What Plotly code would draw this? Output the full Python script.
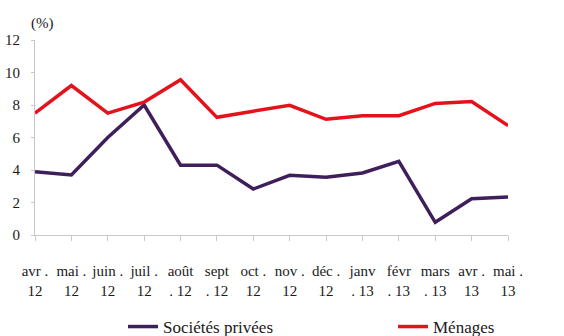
import plotly.graph_objects as go

# Monthly series, April 2012 to May 2013
mois = ["avr .<br>12", "mai .<br>12", "juin .<br>12", "juil .<br>12", "août<br>. 12",
        "sept<br>. 12", "oct .<br>12", "nov .<br>12", "déc .<br>12", "janv<br>. 13",
        "févr<br>. 13", "mars<br>. 13", "avr .<br>13", "mai .<br>13"]
societes_privees = [3.9, 3.7, 6.0, 8.0, 4.3, 4.3, 2.83, 3.67, 3.55, 3.82, 4.53, 0.78, 2.23, 2.34]
menages = [7.5, 9.2, 7.5, 8.18, 9.55, 7.24, 7.62, 7.98, 7.12, 7.34, 7.34, 8.1, 8.22, 6.73]

x = list(range(len(mois)))
serif = "'Liberation Serif', 'Times New Roman', serif"
W, H = 564, 336

fig = go.Figure()
fig.add_trace(go.Scatter(x=x, y=societes_privees, mode="lines", name="Sociétés privées",
                         line=dict(color="#3F1F5B", width=3.5), legend="legend"))
fig.add_trace(go.Scatter(x=x, y=menages, mode="lines", name="Ménages",
                         line=dict(color="#E3121B", width=3.5), legend="legend2"))

leg_common = dict(orientation="h", yref="container", y=(336 - 327) / H, yanchor="middle",
                  xref="container", xanchor="left", font=dict(family=serif, size=17),
                  bgcolor="rgba(0,0,0,0)", itemwidth=30)

fig.update_layout(
    width=W, height=H,
    margin=dict(l=35, r=56, t=40, b=101, autoexpand=False),
    paper_bgcolor="white", plot_bgcolor="white",
    font=dict(family=serif, size=15, color="#1a1a1a"),
    showlegend=True,
    legend=dict(leg_common, x=123 / W),
    legend2=dict(leg_common, x=393 / W),
    xaxis=dict(range=[0, 13], tickvals=x, ticktext=mois, tickangle=0,
               showgrid=False, zeroline=False,
               showline=True, linecolor="#c8c8c8", linewidth=1,
               ticks="outside", ticklen=5, tickcolor="#c8c8c8",
               ticklabelstandoff=17, tickfont=dict(family=serif, size=15)),
    yaxis=dict(range=[0, 12], dtick=2, showgrid=False, zeroline=False,
               showline=True, linecolor="#c8c8c8", linewidth=1,
               ticks="outside", ticklen=3, tickcolor="#c8c8c8",
               ticklabelstandoff=8, tickfont=dict(family=serif, size=15)),
    annotations=[dict(text="(%)", x=0, xref="paper", xanchor="left", xshift=-6,
                      y=1, yref="paper", yanchor="bottom", yshift=6,
                      showarrow=False, font=dict(family=serif, size=15))],
)

fig.write_html("out.html")
